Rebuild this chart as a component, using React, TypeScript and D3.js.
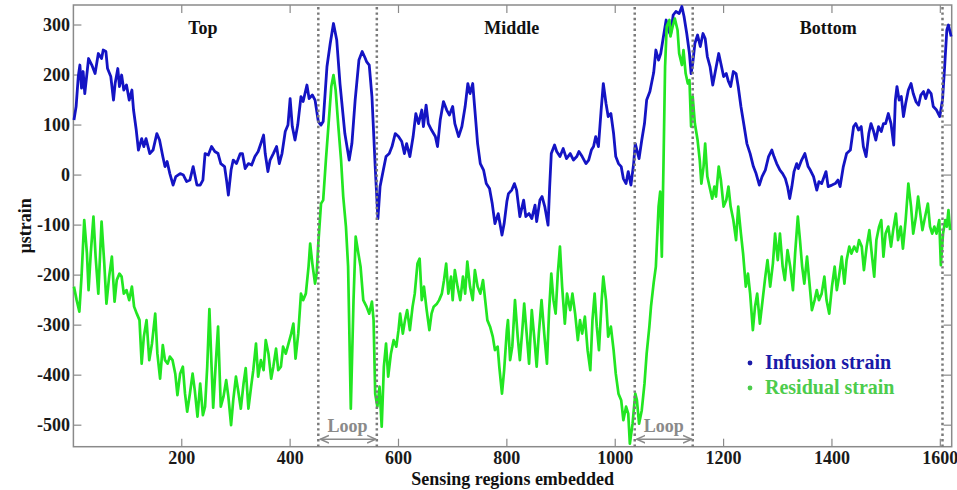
import React from "react";
import * as d3 from "d3";

const xTicks = [200, 400, 600, 800, 1000, 1200, 1400, 1600];
const yTicks = [-500, -400, -300, -200, -100, 0, 100, 200, 300];
const regionLabels = ["Top", "Middle", "Bottom"];
const regionCenters = [239, 809, 1393];
const boundaries = [452, 560, 1036, 1143, 1604];
const loopSpans: [number, number][] = [[452, 560], [1036, 1143]];
const seriesNames = ["Infusion strain", "Residual strain"];

const infusion: [number, number][] = [
  [1,110],[5,137],[9,197],[12,220],[15,174],[18,207],[21,163],[28,233],[34,220],[40,203],[46,243],[52,233],[55,250],[60,247],[63,213],[69,197],[74,150],[77,183],[82,213],[85,177],[89,200],[93,170],[98,180],[103,150],[108,170],[111,130],[116,90],[120,50],[126,73],[130,57],[134,73],[141,43],[147,50],[154,83],[159,70],[165,37],[169,17],[173,27],[178,3],[184,-20],[189,-3],[197,3],[203,0],[209,-13],[215,-10],[221,17],[228,-20],[234,-20],[239,-10],[243,43],[249,40],[255,57],[261,47],[267,43],[272,23],[279,17],[283,-13],[286,-40],[291,10],[295,30],[301,23],[308,43],[312,43],[317,13],[323,23],[329,20],[335,37],[341,47],[346,63],[351,80],[354,43],[359,7],[363,30],[369,43],[375,57],[380,23],[385,43],[391,87],[396,100],[400,153],[404,97],[409,70],[414,100],[420,157],[424,147],[431,180],[435,153],[441,160],[446,150],[452,107],[457,100],[461,107],[468,217],[474,263],[480,303],[486,270],[492,183],[501,83],[509,30],[514,63],[520,150],[527,230],[533,247],[538,235],[541,227],[546,220],[551,157],[557,17],[562,-87],[566,-23],[572,10],[577,37],[583,43],[588,57],[594,83],[600,77],[606,67],[611,43],[615,63],[621,37],[627,77],[632,123],[637,103],[643,130],[646,97],[651,140],[655,103],[661,90],[668,77],[672,57],[677,110],[683,147],[689,130],[694,120],[700,137],[704,103],[711,77],[717,97],[723,137],[728,183],[732,163],[737,183],[741,130],[746,63],[751,23],[757,10],[762,-17],[768,-27],[773,-57],[778,-97],[784,-77],[791,-120],[795,-97],[800,-53],[803,-37],[809,-30],[814,-17],[818,-30],[824,-83],[831,-50],[835,-83],[841,-77],[846,-87],[852,-60],[855,-93],[861,-50],[865,-43],[870,-63],[876,-100],[879,-23],[882,43],[888,60],[892,47],[898,37],[904,53],[910,33],[917,43],[923,30],[929,37],[933,47],[939,37],[946,23],[951,30],[956,50],[960,57],[964,77],[969,57],[974,130],[978,183],[983,143],[987,117],[992,123],[997,83],[1001,37],[1006,23],[1011,17],[1015,-7],[1020,-17],[1024,7],[1029,-20],[1034,23],[1037,63],[1040,50],[1044,33],[1049,70],[1054,103],[1058,150],[1064,167],[1071,205],[1075,250],[1080,230],[1084,243],[1089,277],[1094,310],[1098,290],[1102,280],[1107,320],[1112,327],[1118,323],[1123,337],[1127,317],[1132,283],[1137,243],[1140,203],[1143,223],[1147,263],[1152,280],[1157,257],[1162,283],[1166,273],[1170,237],[1175,217],[1180,180],[1184,203],[1191,243],[1195,223],[1200,197],[1205,203],[1209,187],[1213,177],[1218,207],[1223,203],[1227,177],[1232,137],[1238,97],[1243,63],[1249,43],[1255,17],[1260,3],[1266,-20],[1271,-3],[1277,10],[1283,37],[1289,50],[1293,37],[1298,23],[1304,10],[1309,3],[1314,-7],[1318,-23],[1322,-47],[1326,-23],[1330,7],[1335,23],[1338,13],[1344,30],[1350,43],[1356,17],[1360,10],[1366,-3],[1372,-30],[1376,-13],[1381,-17],[1389,7],[1393,-23],[1400,-20],[1406,-17],[1411,-10],[1415,-23],[1421,17],[1427,43],[1434,50],[1440,97],[1444,103],[1449,90],[1454,97],[1458,57],[1463,37],[1468,83],[1472,103],[1477,87],[1481,70],[1486,97],[1491,87],[1495,103],[1499,103],[1504,123],[1509,103],[1514,60],[1517,150],[1520,177],[1524,150],[1528,157],[1532,117],[1536,143],[1541,170],[1546,183],[1550,163],[1555,147],[1560,140],[1564,160],[1569,167],[1573,153],[1578,170],[1583,163],[1587,137],[1593,130],[1599,117],[1604,150],[1608,217],[1612,290],[1615,300],[1620,277]
];

const residual: [number, number][] = [
  [1,-223],[6,-250],[11,-273],[15,-203],[20,-90],[25,-157],[28,-230],[32,-157],[37,-83],[41,-163],[46,-237],[52,-93],[57,-177],[61,-257],[66,-203],[71,-163],[76,-253],[80,-210],[85,-197],[89,-203],[93,-237],[98,-230],[103,-250],[108,-223],[112,-263],[117,-277],[122,-290],[126,-377],[130,-323],[135,-290],[140,-370],[145,-337],[151,-277],[155,-357],[160,-407],[165,-340],[169,-370],[174,-377],[178,-363],[183,-370],[188,-397],[192,-440],[197,-397],[202,-383],[206,-437],[210,-473],[215,-437],[220,-397],[224,-430],[229,-483],[234,-417],[239,-480],[243,-463],[247,-383],[251,-268],[255,-383],[258,-465],[262,-390],[267,-303],[272,-463],[277,-443],[282,-410],[286,-443],[291,-500],[295,-450],[300,-403],[304,-430],[309,-467],[314,-417],[318,-386],[323,-467],[328,-423],[332,-390],[337,-337],[341,-403],[346,-370],[351,-390],[355,-330],[360,-357],[365,-407],[369,-383],[374,-347],[378,-390],[383,-383],[387,-343],[392,-357],[397,-337],[402,-317],[406,-297],[410,-367],[415,-317],[420,-237],[424,-250],[429,-237],[434,-183],[437,-137],[441,-177],[446,-217],[449,-197],[452,-137],[457,-57],[461,-50],[466,30],[471,103],[476,177],[480,200],[484,170],[489,97],[494,30],[498,-43],[503,-103],[507,-183],[512,-467],[517,-250],[521,-123],[526,-157],[530,-183],[535,-250],[541,-263],[546,-277],[551,-253],[554,-290],[557,-437],[561,-463],[565,-423],[569,-503],[573,-383],[577,-337],[581,-403],[586,-357],[591,-330],[596,-343],[600,-310],[603,-277],[608,-317],[612,-290],[616,-270],[621,-310],[626,-263],[630,-237],[635,-177],[639,-167],[643,-250],[647,-223],[652,-270],[657,-310],[661,-277],[665,-263],[671,-257],[675,-250],[680,-237],[684,-210],[688,-177],[692,-237],[697,-203],[700,-250],[704,-190],[709,-223],[714,-250],[719,-203],[723,-237],[727,-173],[732,-223],[737,-250],[741,-190],[746,-223],[751,-237],[756,-210],[760,-250],[764,-290],[769,-303],[774,-323],[778,-350],[783,-343],[786,-383],[791,-437],[795,-390],[800,-310],[802,-290],[806,-370],[810,-343],[815,-250],[820,-323],[824,-370],[829,-303],[832,-257],[837,-323],[841,-377],[846,-270],[851,-330],[855,-383],[859,-317],[864,-250],[869,-317],[874,-377],[878,-270],[882,-197],[886,-250],[890,-277],[894,-197],[898,-143],[902,-223],[907,-297],[911,-237],[917,-270],[921,-237],[926,-277],[931,-330],[935,-290],[939,-317],[944,-283],[949,-350],[954,-390],[958,-290],[962,-237],[966,-303],[970,-350],[975,-250],[978,-203],[983,-250],[987,-323],[992,-303],[997,-350],[1001,-397],[1006,-437],[1011,-450],[1015,-490],[1020,-463],[1024,-477],[1027,-537],[1032,-497],[1037,-437],[1040,-450],[1044,-497],[1049,-470],[1054,-417],[1058,-357],[1063,-303],[1066,-263],[1071,-215],[1075,-183],[1080,-63],[1083,-33],[1086,-163],[1089,17],[1092,217],[1095,297],[1100,310],[1102,277],[1106,297],[1110,313],[1115,290],[1118,243],[1123,220],[1126,250],[1130,203],[1134,183],[1137,190],[1140,97],[1143,157],[1147,103],[1152,70],[1156,30],[1159,-17],[1163,17],[1166,63],[1170,-3],[1174,-23],[1179,-47],[1183,-23],[1186,-43],[1191,17],[1195,-10],[1200,-63],[1205,-50],[1209,-23],[1213,-63],[1218,-90],[1223,-130],[1227,-63],[1232,-117],[1236,-157],[1241,-223],[1245,-197],[1249,-237],[1254,-310],[1258,-263],[1262,-237],[1267,-297],[1272,-250],[1277,-203],[1281,-170],[1286,-223],[1291,-177],[1295,-117],[1300,-170],[1304,-117],[1309,-183],[1313,-210],[1318,-150],[1323,-183],[1328,-230],[1332,-157],[1337,-83],[1341,-130],[1345,-183],[1349,-217],[1354,-163],[1358,-210],[1363,-270],[1368,-250],[1372,-230],[1376,-250],[1381,-237],[1386,-203],[1390,-250],[1395,-277],[1400,-223],[1405,-183],[1409,-230],[1413,-203],[1418,-163],[1423,-217],[1427,-170],[1432,-143],[1436,-157],[1441,-143],[1446,-153],[1450,-130],[1455,-143],[1459,-190],[1464,-143],[1469,-110],[1474,-163],[1478,-203],[1482,-130],[1487,-103],[1491,-90],[1495,-163],[1499,-117],[1504,-103],[1509,-143],[1513,-110],[1518,-77],[1522,-130],[1527,-103],[1531,-147],[1536,-90],[1541,-17],[1546,-63],[1550,-117],[1555,-83],[1559,-43],[1563,-77],[1567,-110],[1572,-83],[1577,-57],[1581,-103],[1585,-117],[1589,-103],[1593,-117],[1598,-90],[1601,-180],[1605,-117],[1609,-90],[1612,-103],[1615,-70],[1618,-110]
];

const W = 957;
const H = 490;
const L = 73.4, R = 951.7, T = 5, B = 446.7;
const FONT = "'Liberation Serif', 'Times New Roman', serif";
const BLUE = "#1414c4";
const GREEN = "#22e622";
const GRAY = "#8a8a8a";

export default function App() {
  const x = d3.scaleLinear().domain([0, 1621]).range([L, R]);
  const y = d3.scaleLinear().domain([-543, 340]).range([B, T]);
  const line = d3.line<[number, number]>().x((d) => x(d[0])).y((d) => y(d[1]));

  const arrowY = y(-528);
  const loopTextY = y(-514);

  return (
    <svg width={W} height={H} style={{ position: "absolute", left: 0, top: 0, background: "#fff" }}>
      <defs>
        <marker id="ah" viewBox="0 0 10 10" refX="9" refY="5" markerWidth="6" markerHeight="6" orient="auto-start-reverse">
          <path d="M0,1 L9,5 L0,9" fill="none" stroke={GRAY} strokeWidth="1.6" />
        </marker>
      </defs>
      <rect x={0} y={0} width={W} height={H} fill="#fff" />
      <rect x={L} y={T} width={R - L} height={B - T} fill="none" stroke={GRAY} strokeWidth={1.5} />
      {xTicks.map((t) => (
        <g key={"xt" + t}>
          <line x1={x(t)} x2={x(t)} y1={B} y2={B - 8} stroke={GRAY} strokeWidth={1.2} />
          <line x1={x(t)} x2={x(t)} y1={T} y2={T + 8} stroke={GRAY} strokeWidth={1.2} />
          <text x={x(t)} y={464} textAnchor="middle" fontFamily={FONT} fontWeight="bold" fontSize={18} fill="#1a1a1a">{t}</text>
        </g>
      ))}
      {yTicks.map((t) => (
        <g key={"yt" + t}>
          <line x1={L} x2={L + 8} y1={y(t)} y2={y(t)} stroke={GRAY} strokeWidth={1.2} />
          <line x1={R} x2={R - 8} y1={y(t)} y2={y(t)} stroke={GRAY} strokeWidth={1.2} />
          <text x={70} y={y(t) + 6} textAnchor="end" fontFamily={FONT} fontWeight="bold" fontSize={18} fill="#1a1a1a">{t}</text>
        </g>
      ))}
      <path d={line(infusion) || ""} fill="none" stroke={BLUE} strokeWidth={2.8} strokeLinejoin="round" />
      <path d={line(residual) || ""} fill="none" stroke={GREEN} strokeWidth={2.7} strokeLinejoin="round" />
      {boundaries.map((b) => (
        <line key={"b" + b} x1={x(b)} x2={x(b)} y1={T + 2} y2={B} stroke="#7a7a7a" strokeWidth={2.5} strokeDasharray="2.4,3" />
      ))}
      {regionLabels.map((s, i) => (
        <text key={s} x={x(regionCenters[i])} y={34} textAnchor="middle" fontFamily={FONT} fontWeight="bold" fontSize={18} fill="#111">{s}</text>
      ))}
      {loopSpans.map(([a, b]) => (
        <g key={"loop" + a}>
          <line x1={x(a) + 2} x2={x(b) - 1} y1={arrowY} y2={arrowY} stroke={GRAY} strokeWidth={1.6} markerStart="url(#ah)" markerEnd="url(#ah)" />
          <text x={(x(a) + x(b)) / 2} y={loopTextY} textAnchor="middle" fontFamily={FONT} fontWeight="bold" fontSize={18} fill={GRAY}>Loop</text>
        </g>
      ))}
      <circle cx={750} cy={363} r={2.4} fill="#1a1aa8" />
      <text x={765} y={369} fontFamily={FONT} fontWeight="bold" fontSize={20} fill="#1a1aa8">{seriesNames[0]}</text>
      <circle cx={750} cy={388} r={2.4} fill="#4ccc4c" />
      <text x={765} y={394} fontFamily={FONT} fontWeight="bold" fontSize={20} fill="#4ccc4c">{seriesNames[1]}</text>
      <text x={(L + R) / 2} y={485} textAnchor="middle" fontFamily={FONT} fontWeight="bold" fontSize={18} fill="#111">Sensing regions embedded</text>
      <text transform={`translate(31,${(T + B) / 2}) rotate(-90)`} textAnchor="middle" fontFamily={FONT} fontWeight="bold" fontSize={18} fill="#111">µstrain</text>
    </svg>
  );
}
